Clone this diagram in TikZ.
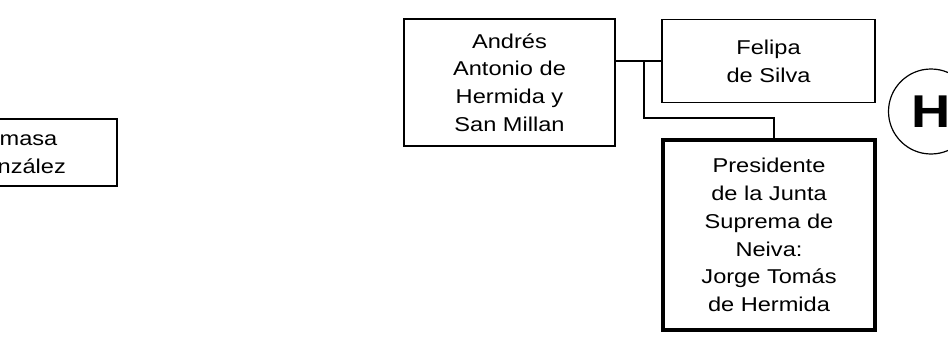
\documentclass[tikz,border=0pt]{standalone}
\usepackage{fontspec}
\setmainfont{Liberation Sans}[FakeStretch=1.18]
\begin{document}
\begin{tikzpicture}[x=1pt,y=-1pt,
    person/.style={draw,line width=1.2pt,rectangle,inner sep=0pt,align=center,
      font=\fontsize{20}{27.8}\selectfont},
    link/.style={line width=1.2pt}]
    \useasboundingbox (0,0) rectangle (948,340);
    \clip (0,0) rectangle (948,340);
    \node[person,minimum width=202,minimum height=67] (tomasa) at (16,152.5) {Tomasa\\González};
    \node[person,minimum width=211,minimum height=127] (andres) at (509.5,82.5) {Andrés\\Antonio de\\Hermida y\\San Millan};
    \node[person,minimum width=213,minimum height=83] (felipa) at (768.5,61) {Felipa\\de Silva};
    \node[person,line width=4.5pt,minimum width=212,minimum height=190] (jorge) at (769,235) {Presidente\\de la Junta\\Suprema de\\Neiva:\\Jorge Tomás\\de Hermida};
    \node[draw,circle,line width=1.2pt,minimum size=85,inner sep=0pt,
      font=\fontsize{46}{46}\selectfont\bfseries] (mark) at (931,111.5) {H};
    \coordinate (split) at (644,61);
    \draw[link] (andres.east |- felipa.west)--(felipa.west);
    \draw[link] (split)--(644,118)-|([xshift=5pt]jorge.north);
  \end{tikzpicture}
\end{document}
